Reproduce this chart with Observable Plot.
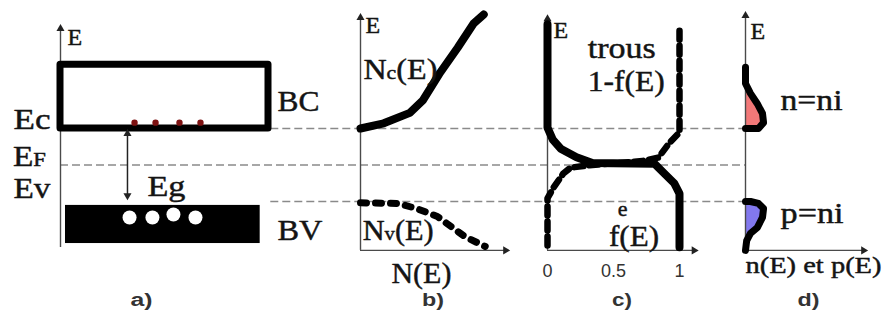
<!DOCTYPE html>
<html>
<head>
<meta charset="utf-8">
<script src="https://cdn.jsdelivr.net/npm/d3@7"></script>
<script src="https://cdn.jsdelivr.net/npm/@observablehq/plot@0.6"></script>
<style>
  body { margin: 0; background: #fff; }
  #fig { position: relative; width: 883px; height: 320px; background: #fff; overflow: hidden; }
  #fig svg { position: absolute; left: 0; top: 0; }
</style>
</head>
<body>
<div id="fig"></div>
<script>
// Energy levels of an intrinsic semiconductor (eV, valence band edge at 0)
const EV = 0, EF = 0.56, EC = 1.12;
const levelNames = ["Ec", "E_F", "Ev"];
const levelValues = [EC, EF, EV];

// a) band diagram
const cbTop = 2.1;                       // top of the conduction band box
const vbTop = -0.06, vbBottom = -0.645;  // filled valence band
const electronX = [0.356, 0.457, 0.572, 0.673];
const electronE = [1.21, 1.21, 1.21, 1.21];
const holeX = [0.332, 0.442, 0.543, 0.649];
const holeE = [-0.245, -0.245, -0.2, -0.245];

// b) density of states
const ncN = [0, 1.6, 3.4, 4.3, 5.5, 6.7, 7.8, 8.5];
const ncE = [1.12, 1.2, 1.36, 1.55, 1.98, 2.36, 2.73, 2.87];
const nvN = [0, 2.6, 3.9, 5.3, 7.2, 8.6];
const nvE = [-0.02, -0.03, -0.11, -0.23, -0.54, -0.69];

// c) Fermi-Dirac occupation f(E) and hole occupation 1-f(E)
const fOcc = [0, 0, 0.04, 0.10, 0.22, 0.34, 0.81, 0.885, 0.96, 1, 1];
const fE   = [2.72, 1.135, 0.95, 0.81, 0.68, 0.59, 0.58, 0.43, 0.28, 0.12, -0.70];
const hOcc = [1, 1, 0.92, 0.84, 0.72, 0.34, 0.175, 0.12, 0.046, 0, 0];
const hE   = [2.62, 1.06, 0.89, 0.675, 0.62, 0.56, 0.52, 0.43, 0.215, 0.05, -0.70];
const occTicks = [0, 0.5, 1];
const occTickLabels = ["0", "0.5", "1"];

// d) carrier densities n(E) and p(E)
const nDens = [0, 0, 0.42, 1.0, 1.44, 1.53, 1.1, 0];
const nE    = [2.06, 1.81, 1.66, 1.50, 1.35, 1.21, 1.12, 1.12];
const pDens = [0, 0.42, 1.1, 1.53, 1.44, 1.0, 0.42, 0.1, 0];
const pE    = [0, 0, -0.03, -0.107, -0.245, -0.40, -0.49, -0.60, -0.75];

// axis extents (energy)
const eBase = -0.75;
const eTopA = 2.65, eTopB = 2.82, eTopC = 2.8, eTopD = 2.85;
const eCaption = -1.52;

const W = 883, H = 320;
const serif = "'Liberation Serif', 'Times New Roman', serif";
const sans = "'Liberation Sans', Arial, sans-serif";
const ink = "#141414";
const axisInk = "#4a4a4a";

// the lettering is set a little wide
const setWidth = {
  "Ec": 37, "E_F": 33, "Ev": 37, "Eg": 38, "BC": 42, "BV": 45,
  "N_c(E)": 74, "N_v(E)": 71, "trous": 68, "1-f(E)": 77, "f(E)": 50,
  "n=ni": 62, "p=ni": 63, "n(E) et p(E)": 136,
  "a)": 22, "b)": 22, "c)": 20, "d)": 22
};

const zip = (xs, ys) => xs.map((x, i) => ({x, y: ys[i]}));

function panel(xDomain, xRange, marks) {
  return Plot.plot({
    width: W, height: H, margin: 0,
    x: {domain: xDomain, range: xRange, axis: null},
    y: {domain: [EV, EC], range: [201, 128], axis: null},
    style: {background: "transparent", overflow: "visible"},
    marks
  });
}

const label = (data, opts) => Plot.text(data, {fontFamily: serif, fill: ink, stroke: ink, strokeWidth: 0.45, fontSize: 29, ...opts});
const caption = (x, text) => Plot.text([text], {x: [x], y: [eCaption], fontFamily: sans, fontWeight: "bold", fontSize: 18, fill: "#333", lineAnchor: "middle"});
const head = (pts) => Plot.dot(pts, {x: "x", y: "y", rotate: "r", symbol: "triangle", r: 3, fill: "#222"});

// dashed energy-level guides, from the first axis to the last
const guides = panel([0, 1], [60, 745], [
  Plot.ruleY(levelValues.map((E, i) => ({E, name: levelNames[i]})), {
    y: "E", x1: d => d.name === "E_F" ? 0 : 0.307, x2: 1,
    stroke: "#8a8a8a", strokeWidth: 1.6, strokeDasharray: "8,4"
  })
]);

const panelA = panel([0, 1], [60, 268], [
  Plot.ruleX([0], {y1: -0.706, y2: eTopA, stroke: axisInk, strokeWidth: 1.4}),
  head([{x: 0, y: eTopA, r: 0}]),
  Plot.rect([0], {x1: 0, x2: 1, y1: EC, y2: cbTop, fill: "none", stroke: "#000", strokeWidth: 7, strokeLinejoin: "round"}),
  Plot.rect([0], {x1: 0.024, x2: 0.96, y1: vbBottom, y2: vbTop, fill: "#000"}),
  Plot.dot(zip(electronX, electronE), {x: "x", y: "y", r: 3.2, fill: "#7d1212"}),
  Plot.dot(zip(holeX, holeE), {x: "x", y: "y", r: 7, fill: "#fff"}),
  Plot.ruleX([0.322], {y1: 0.09, y2: 1.04, stroke: "#222", strokeWidth: 1.5}),
  head([{x: 0.322, y: 1.04, r: 0}, {x: 0.322, y: 0.09, r: 180}]),
  label(["E"], {x: [0.034], y: [2.52], fontSize: 24, textAnchor: "start", lineAnchor: "middle"}),
  label(levelNames, {x: [-0.048, -0.07, -0.048], y: [1.12, 0.552, 0.061], textAnchor: "end", lineAnchor: "bottom"}),
  label(["Eg"], {x: [0.418], y: [0.092], textAnchor: "start", lineAnchor: "bottom"}),
  label(["BC", "BV"], {x: [1.043, 1.043], y: [1.396, -0.598], fontSize: 30, textAnchor: "start", lineAnchor: "bottom"}),
  caption(0.39, "a)")
]);

const panelB = panel([0, 10], [360, 505], [
  Plot.ruleX([0], {y1: eBase, y2: eTopB, stroke: axisInk, strokeWidth: 1.4}),
  Plot.ruleY([eBase], {x1: 0, x2: 10, stroke: axisInk, strokeWidth: 1.4}),
  head([{x: 0, y: eTopB, r: 0}, {x: 10, y: eBase, r: 90}]),
  Plot.line(zip(ncN, ncE), {x: "x", y: "y", stroke: "#000", strokeWidth: 8, strokeLinecap: "round", strokeLinejoin: "round"}),
  Plot.line(zip(nvN, nvE), {x: "x", y: "y", stroke: "#000", strokeWidth: 7, strokeDasharray: "6,9", strokeLinejoin: "round"}),
  label(["E"], {x: [0.34], y: [2.70], fontSize: 24, textAnchor: "start", lineAnchor: "middle"}),
  label(["N_c(E)", "N_v(E)"], {x: [0.2, 0.15], y: [1.887, -0.598], fontSize: 29, textAnchor: "start", lineAnchor: "bottom"}),
  label(["N(E)"], {x: [4.2], y: [-1.243], fontSize: 30, lineAnchor: "bottom"}),
  caption(5.0, "b)")
]);

const panelC = panel([0, 1], [547, 679], [
  Plot.ruleX([0], {y1: eBase, y2: eTopC, stroke: axisInk, strokeWidth: 1.4}),
  Plot.ruleY([eBase], {x1: 0, x2: 1.11, stroke: axisInk, strokeWidth: 1.4}),
  head([{x: 0, y: eTopC, r: 0}, {x: 1.11, y: eBase, r: 90}]),
  Plot.line(zip(hOcc, hE), {x: "x", y: "y", stroke: "#000", strokeWidth: 6.5, strokeDasharray: "9,6", strokeLinejoin: "round"}),
  Plot.line(zip(fOcc, fE), {x: "x", y: "y", stroke: "#000", strokeWidth: 8, strokeLinejoin: "round"}),
  Plot.text(occTicks, {x: d => d, y: [-1.074, -1.074, -1.074], text: (d, i) => occTickLabels[i], fontFamily: sans, fontSize: 18, fill: "#333", lineAnchor: "middle"}),
  label(["E"], {x: [0.046], y: [2.62], fontSize: 24, textAnchor: "start", lineAnchor: "middle"}),
  label(["trous", "1-f(E)"], {x: [0.305, 0.305], y: [2.194, 1.70], fontSize: 30, textAnchor: "start", lineAnchor: "bottom"}),
  label(["e"], {x: [0.57], y: [-0.23], fontSize: 22, lineAnchor: "bottom"}),
  label(["f(E)"], {x: [0.466], y: [-0.69], fontSize: 30, textAnchor: "start", lineAnchor: "bottom"}),
  caption(0.565, "c)")
]);

const panelD = panel([0, 10], [745, 863], [
  Plot.areaX(zip(nDens, nE), {x: "x", y: "y", fill: "#f27878"}),
  Plot.areaX(zip(pDens, pE), {x: "x", y: "y", fill: "#8278ee"}),
  Plot.ruleX([0], {y1: eBase, y2: eTopD, stroke: axisInk, strokeWidth: 1.4}),
  Plot.ruleY([eBase], {x1: 0, x2: 10, stroke: axisInk, strokeWidth: 1.4}),
  head([{x: 0, y: eTopD, r: 0}, {x: 10, y: eBase, r: 90}]),
  Plot.line(zip(nDens, nE), {x: "x", y: "y", stroke: "#000", strokeWidth: 7, strokeLinejoin: "round"}),
  Plot.line(zip(pDens, pE), {x: "x", y: "y", stroke: "#000", strokeWidth: 7, strokeLinejoin: "round"}),
  label(["E"], {x: [0.42], y: [2.61], fontSize: 24, textAnchor: "start", lineAnchor: "middle"}),
  label(["n=ni", "p=ni"], {x: [2.97, 2.97], y: [1.55, -0.184], fontSize: 30, textAnchor: "start", lineAnchor: "middle"}),
  label(["n(E) et p(E)"], {x: [0], y: [-0.98], fontSize: 24, textAnchor: "start", lineAnchor: "middle"}),
  caption(5.34, "d)")
]);

const fig = document.getElementById("fig");
for (const svg of [guides, panelA, panelB, panelC, panelD]) {
  svg.querySelectorAll("text").forEach(t => {
    const s = t.textContent;
    if (setWidth[s]) {
      t.setAttribute("textLength", setWidth[s]);
      t.setAttribute("lengthAdjust", "spacingAndGlyphs");
    }
    // "X_y..." draws y as a small index letter
    const i = s.indexOf("_");
    if (i < 0) return;
    t.textContent = s.slice(0, i);
    const sub = document.createElementNS("http://www.w3.org/2000/svg", "tspan");
    sub.setAttribute("font-size", "0.68em");
    sub.textContent = s[i + 1];
    t.appendChild(sub);
    const rest = document.createElementNS("http://www.w3.org/2000/svg", "tspan");
    rest.textContent = s.slice(i + 2);
    t.appendChild(rest);
  });
  fig.appendChild(svg);
}
</script>
</body>
</html>
